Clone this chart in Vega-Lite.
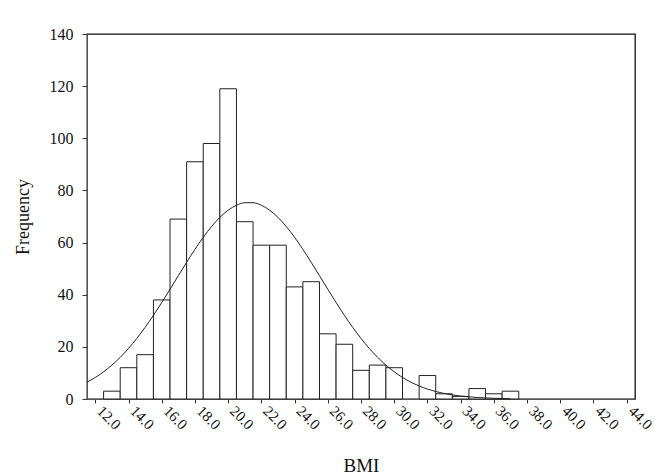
{
  "$schema": "https://vega.github.io/schema/vega-lite/v6.json",
  "autosize": "none",
  "width": 548,
  "height": 365,
  "padding": {"left": 87, "top": 34, "right": 25, "bottom": 77},
  "background": "white",
  "config": {
    "view": {"stroke": "#111", "strokeWidth": 1.3},
    "font": "Liberation Serif",
    "axis": {"grid": false, "domainColor": "#555", "tickColor": "#333", "labelColor": "#111", "titleColor": "#111", "labelFont": "Liberation Serif", "titleFont": "Liberation Serif", "titleFontWeight": "normal"}
  },
  "datasets": {
    "bars": [
      {"start": 12.5, "end": 13.5, "count": 3},
      {"start": 13.5, "end": 14.5, "count": 12},
      {"start": 14.5, "end": 15.5, "count": 17},
      {"start": 15.5, "end": 16.5, "count": 38},
      {"start": 16.5, "end": 17.5, "count": 69},
      {"start": 17.5, "end": 18.5, "count": 91},
      {"start": 18.5, "end": 19.5, "count": 98},
      {"start": 19.5, "end": 20.5, "count": 119},
      {"start": 20.5, "end": 21.5, "count": 68},
      {"start": 21.5, "end": 22.5, "count": 59},
      {"start": 22.5, "end": 23.5, "count": 59},
      {"start": 23.5, "end": 24.5, "count": 43},
      {"start": 24.5, "end": 25.5, "count": 45},
      {"start": 25.5, "end": 26.5, "count": 25},
      {"start": 26.5, "end": 27.5, "count": 21},
      {"start": 27.5, "end": 28.5, "count": 11},
      {"start": 28.5, "end": 29.5, "count": 13},
      {"start": 29.5, "end": 30.5, "count": 12},
      {"start": 31.5, "end": 32.5, "count": 9},
      {"start": 32.5, "end": 33.5, "count": 2},
      {"start": 33.5, "end": 34.5, "count": 1},
      {"start": 34.5, "end": 35.5, "count": 4},
      {"start": 35.5, "end": 36.5, "count": 2},
      {"start": 36.5, "end": 37.5, "count": 3}
    ],
    "curve": [
      {"bmi": 11.5, "freq": 6.48}, {"bmi": 12.0, "freq": 8.27}, {"bmi": 12.5, "freq": 10.44},
      {"bmi": 13.0, "freq": 13.0}, {"bmi": 13.5, "freq": 15.99}, {"bmi": 14.0, "freq": 19.4},
      {"bmi": 14.5, "freq": 23.25}, {"bmi": 15.0, "freq": 27.49}, {"bmi": 15.5, "freq": 32.1},
      {"bmi": 16.0, "freq": 37.01}, {"bmi": 16.5, "freq": 42.1}, {"bmi": 17.0, "freq": 47.29},
      {"bmi": 17.5, "freq": 52.43}, {"bmi": 18.0, "freq": 57.4}, {"bmi": 18.5, "freq": 62.02},
      {"bmi": 19.0, "freq": 66.16}, {"bmi": 19.5, "freq": 69.66}, {"bmi": 20.0, "freq": 72.42},
      {"bmi": 20.5, "freq": 74.31}, {"bmi": 21.0, "freq": 75.28}, {"bmi": 21.5, "freq": 75.28},
      {"bmi": 22.0, "freq": 74.31}, {"bmi": 22.5, "freq": 72.42}, {"bmi": 23.0, "freq": 69.66},
      {"bmi": 23.5, "freq": 66.16}, {"bmi": 24.0, "freq": 62.02}, {"bmi": 24.5, "freq": 57.4},
      {"bmi": 25.0, "freq": 52.43}, {"bmi": 25.5, "freq": 47.29}, {"bmi": 26.0, "freq": 42.1},
      {"bmi": 26.5, "freq": 37.01}, {"bmi": 27.0, "freq": 32.1}, {"bmi": 27.5, "freq": 27.49},
      {"bmi": 28.0, "freq": 23.25}, {"bmi": 28.5, "freq": 19.4}, {"bmi": 29.0, "freq": 15.99},
      {"bmi": 29.5, "freq": 13.0}, {"bmi": 30.0, "freq": 10.44}, {"bmi": 30.5, "freq": 8.27},
      {"bmi": 31.0, "freq": 6.48}, {"bmi": 31.5, "freq": 5.0}, {"bmi": 32.0, "freq": 3.81},
      {"bmi": 32.5, "freq": 2.87}, {"bmi": 33.0, "freq": 2.13}, {"bmi": 33.5, "freq": 1.56},
      {"bmi": 34.0, "freq": 1.13}, {"bmi": 34.5, "freq": 0.81}, {"bmi": 35.0, "freq": 0.57},
      {"bmi": 35.5, "freq": 0.4}, {"bmi": 36.0, "freq": 0.27}, {"bmi": 36.5, "freq": 0.18},
      {"bmi": 37.0, "freq": 0.12}
    ]
  },
  "encoding": {
    "x": {"type": "quantitative",
      "scale": {"domain": [11.5, 44.5], "nice": false, "zero": false},
      "axis": {"title": "BMI", "values": [12,14,16,18,20,22,24,26,28,30,32,34,36,38,40,42,44], "format": ".1f",
        "labelAngle": 45, "labelAlign": "left", "labelBaseline": "middle", "labelFontSize": 15, "labelPadding": 5, "labelOffset": 4,
        "tickSize": 4, "titleFontSize": 19, "titlePadding": 24, "labelOverlap": false, "labelSeparation": 0, "labelFlush": false}},
    "y": {"type": "quantitative",
      "scale": {"domain": [0, 140], "nice": false},
      "axis": {"title": "Frequency", "values": [0,20,40,60,80,100,120,140], "labelFontSize": 16, "labelPadding": 9,
        "tickSize": 5, "titleFontSize": 18, "titlePadding": 17}}
  },
  "layer": [
    {
      "data": {"name": "bars"},
      "mark": {"type": "rect", "fill": "white", "stroke": "#222", "strokeWidth": 1},
      "encoding": {
        "x": {"field": "start", "type": "quantitative"},
        "x2": {"field": "end"},
        "y": {"field": "count", "type": "quantitative"},
        "y2": {"datum": 0}
      }
    },
    {
      "data": {"name": "curve"},
      "mark": {"type": "line", "color": "#222", "strokeWidth": 1, "interpolate": "monotone"},
      "encoding": {
        "x": {"field": "bmi", "type": "quantitative"},
        "y": {"field": "freq", "type": "quantitative"}
      }
    }
  ]
}
